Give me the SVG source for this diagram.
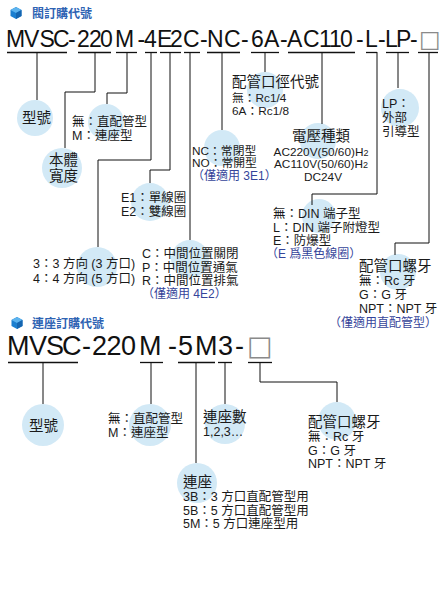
<svg xmlns="http://www.w3.org/2000/svg" width="440" height="600" viewBox="0 0 440 600">
<style>
.ln{stroke:#111;stroke-width:1;fill:none}
.ul{stroke:#111;stroke-width:1.3}
.bub{fill:#d2e9f6}
.t{font-family:"Liberation Sans","Noto Sans CJK TC",sans-serif;font-size:12.5px;fill:#1a1a1a}
.s{font-size:11.8px}
.h{font-size:14.5px}
.b{fill:#34449a;font-size:12px}
.code{font-family:"Liberation Sans","DejaVu Sans",sans-serif;fill:#111}
.hd{font-family:"Noto Sans CJK TC",sans-serif;font-size:12px;fill:#2e63b3;font-weight:bold}
.sq{font-family:"DejaVu Sans",sans-serif;fill:#8a8a8a}
</style>
<defs>
<g id="cube">
<polygon points="0,-6 5.5,-3 5.5,3 0,6 -5.5,3 -5.5,-3" fill="#1b7fd0"/>
<polygon points="0,-6 5.5,-3 0,0 -5.5,-3" fill="#5cb3ee"/>
<polygon points="0,0 5.5,-3 5.5,3 0,6" fill="#1565b0"/>
</g>
</defs>
<rect width="440" height="600" fill="#fff"/>

<!-- Section 1 header -->
<g id="header1">
<use href="#cube" x="16" y="13"/>
<text class="hd" x="32" y="18">閥訂購代號</text>
</g>
<g id="code1">
<text class="code" font-size="23" y="47" x="6 24 39.5 53 68 77 89 100 115 137.5 144 157 170 183 200 207 224 241 251 264 280 287 303 319 329 340 356 365 378 385 396 410 419">MVSC-220M-4E2C-NC-6A-AC110-L-LP-<tspan class="sq">□</tspan></text>
<g class="ul">
<line x1="7" y1="52.5" x2="67" y2="52.5"/>
<line x1="78" y1="52.5" x2="111" y2="52.5"/>
<line x1="116" y1="52.5" x2="137" y2="52.5"/>
<line x1="145" y1="52.5" x2="157" y2="52.5"/>
<line x1="160" y1="52.5" x2="181" y2="52.5"/>
<line x1="184" y1="52.5" x2="200" y2="52.5"/>
<line x1="207" y1="52.5" x2="240" y2="52.5"/>
<line x1="251" y1="52.5" x2="279" y2="52.5"/>
<line x1="288" y1="52.5" x2="355" y2="52.5"/>
<line x1="366" y1="52.5" x2="377" y2="52.5"/>
<line x1="386" y1="52.5" x2="409" y2="52.5"/>
<line x1="418" y1="52.5" x2="438" y2="52.5"/>
</g>
</g>

<!-- Bubbles section 1 -->
<g id="bubbles1">
<circle class="bub" cx="35" cy="118" r="18"/>
<circle class="bub" cx="62" cy="168" r="20"/>
<circle class="bub" cx="106" cy="122" r="18"/>
<circle class="bub" cx="97" cy="267" r="20"/>
<circle class="bub" cx="150" cy="202" r="19"/>
<circle class="bub" cx="190" cy="259" r="19"/>
<circle class="bub" cx="222" cy="148" r="18"/>
<circle class="bub" cx="265" cy="90" r="18"/>
<circle class="bub" cx="318" cy="141" r="18"/>
<circle class="bub" cx="319" cy="216" r="17"/>
<circle class="bub" cx="400" cy="108" r="19"/>
<circle class="bub" cx="398" cy="272" r="18"/>
</g>

<!-- Connectors section 1 -->
<g id="connectors1" class="ln">
<path d="M37,52 V100"/>
<path d="M95,52 V92 H65 V148"/>
<path d="M127,52 V93 H107 V104"/>
<path d="M151,52 V160 H98 V247"/>
<path d="M170,52 V170 H150 V183"/>
<path d="M190,52 V240"/>
<path d="M222,52 V130"/>
<path d="M265,52 V72"/>
<path d="M322,52 V124"/>
<path d="M377,52 V194 H312 V205"/>
<path d="M398,52 V88"/>
<path d="M429,52 V243 H395 V255"/>
</g>

<!-- Labels section 1 -->
<g id="n-model1"><text class="t h" x="22" y="123">型號</text></g>
<g id="n-width"><text class="t h" x="49" y="165">本體</text><text class="t h" x="49" y="181">寬度</text></g>
<g id="n-pipe1"><text class="t" x="72" y="126">無：直配管型</text><text class="t" x="72" y="140">M：連座型</text></g>
<g id="n-port"><text class="t" x="33" y="268">3：3 方向 (3 方口)</text><text class="t" x="33" y="283">4：4 方向 (5 方口)</text></g>
<g id="n-coil"><text class="t" x="121" y="202">E1：單線圈</text><text class="t" x="121" y="216">E2：雙線圈</text></g>
<g id="n-center"><text class="t" x="142" y="258">C：中間位置關閉</text><text class="t" x="142" y="271.5">P：中間位置通氣</text><text class="t" x="142" y="285">R：中間位置排氣</text><text class="t b" x="142" y="298">（僅適用 4E2）</text></g>
<g id="n-nc"><text class="t s" x="192" y="154.5">NC：常閉型</text><text class="t s" x="192" y="167">NO：常開型</text><text class="t b s" x="192" y="179.5">（僅適用 3E1）</text></g>
<g id="n-bore"><text class="t h" x="232" y="87">配管口徑代號</text><text class="t s" x="232" y="102">無：Rc1/4</text><text class="t s" x="232" y="114.5">6A：Rc1/8</text></g>
<g id="n-volt" text-anchor="middle"><text class="t h" x="321" y="141">電壓種類</text><text class="t s" x="321" y="155.5">AC220V(50/60)H<tspan font-size="9">2</tspan></text><text class="t s" x="321" y="168">AC110V(50/60)H<tspan font-size="9">2</tspan></text><text class="t s" x="323" y="180.5">DC24V</text></g>
<g id="n-din"><text class="t" x="273" y="218">無：DIN 端子型</text><text class="t" x="273" y="232">L：DIN 端子附燈型</text><text class="t" x="273" y="245">E：防爆型</text><text class="t b" x="266" y="258">（E 爲黑色線圈）</text></g>
<g id="n-lp"><text class="t" x="382" y="108">LP：</text><text class="t" x="382" y="122">外部</text><text class="t" x="382" y="135.5">引導型</text></g>
<g id="n-thread1"><text class="t h" x="359" y="271">配管口螺牙</text><text class="t" x="359" y="285">無：Rc 牙</text><text class="t" x="359" y="299">G：G 牙</text><text class="t" x="359" y="312.5">NPT：NPT 牙</text><text class="t b" x="329" y="326.5">（僅適用直配管型）</text></g>

<!-- Section 2 header -->
<g id="header2">
<use href="#cube" x="17" y="323"/>
<text class="hd" x="32" y="328">連座訂購代號</text>
</g>
<g id="code2">
<text class="code" font-size="27" y="355" x="7 29 46 62 82 92 106.5 121 139 168 178 195 218 235 247">MVSC-220M-5M3-<tspan class="sq">□</tspan></text>
<g class="ul">
<line x1="8" y1="362.5" x2="78" y2="362.5"/>
<line x1="140" y1="362.5" x2="163" y2="362.5"/>
<line x1="178" y1="362.5" x2="215" y2="362.5"/>
<line x1="218" y1="362.5" x2="232" y2="362.5"/>
<line x1="248" y1="362.5" x2="272" y2="362.5"/>
</g>
</g>

<g id="bubbles2">
<circle class="bub" cx="43" cy="425" r="21"/>
<circle class="bub" cx="150" cy="425" r="21"/>
<circle class="bub" cx="225" cy="424" r="20"/>
<circle class="bub" cx="197" cy="483" r="20"/>
<circle class="bub" cx="337" cy="421" r="19"/>
</g>

<g id="connectors2" class="ln">
<path d="M43,362 V404"/>
<path d="M151,362 V404"/>
<path d="M196,362 V463"/>
<path d="M225,362 V404"/>
<path d="M260,362 V382 H337 V402"/>
</g>

<g id="n-model2"><text class="t h" x="29" y="431">型號</text></g>
<g id="n-pipe2"><text class="t" x="108" y="423">無：直配管型</text><text class="t" x="108" y="437">M：連座型</text></g>
<g id="n-count"><text class="t h" x="203" y="422">連座數</text><text class="t" x="203" y="436">1,2,3…</text></g>
<g id="n-manifold"><text class="t h" x="183" y="487">連座</text><text class="t" x="183" y="501">3B：3 方口直配管型用</text><text class="t" x="183" y="514.5">5B：5 方口直配管型用</text><text class="t" x="183" y="528">5M：5 方口連座型用</text></g>
<g id="n-thread2"><text class="t h" x="308" y="427">配管口螺牙</text><text class="t" x="308" y="441">無：Rc 牙</text><text class="t" x="308" y="455">G：G 牙</text><text class="t" x="308" y="468">NPT：NPT 牙</text></g>
</svg>
